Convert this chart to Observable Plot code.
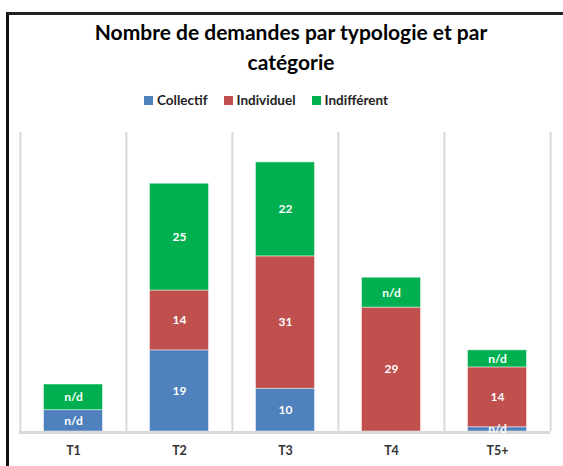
<!DOCTYPE html>
<html>
<head>
<meta charset="utf-8">
<script src="https://cdn.jsdelivr.net/npm/d3@7"></script>
<script src="https://cdn.jsdelivr.net/npm/@observablehq/plot@0.6"></script>
<style>
  html, body { margin: 0; padding: 0; background: #fff; }
  #wrap { position: relative; width: 563px; height: 466px; overflow: hidden; font-family: Lato, "Open Sans", sans-serif; }
  #frame { position: absolute; left: 6px; top: 12px; width: 600px; height: 500px; border-left: 3px solid #111; border-top: 3px solid #222; box-sizing: border-box; z-index: 5; pointer-events: none; }
  #title { position: absolute; left: 0; width: 582px; top: 17px; text-align: center; font-weight: bold; font-size: 21px; line-height: 30px; color: #000; }
  #legend { position: absolute; left: 0; width: 532px; top: 92px; text-align: center; font-weight: bold; font-size: 13.5px; color: #222; }
  #legend span.item { margin: 0 8px; white-space: nowrap; }
  #legend span.sw { display: inline-block; width: 9px; height: 9px; margin-right: 4px; vertical-align: 0px; }
  #chart { position: absolute; left: 0; top: 120px; }
</style>
</head>
<body>
<div id="wrap">
  <div id="title">Nombre de demandes par typologie et par<br>catégorie</div>
  <div id="legend"></div>
  <div id="chart"></div>
  <div id="frame"></div>
</div>
<script>
const categories = ["T1", "T2", "T3", "T4", "T5+"];
const series = ["Collectif", "Individuel", "Indifférent"];
const colors = ["#4F81BD", "#C0504D", "#00B050"];
const collectif = [5, 19, 10, 0, 1];
const individuel = [0, 14, 31, 29, 14];
const indifferent = [6, 25, 22, 7, 4];
const collectifLabels = ["n/d", "19", "10", "", "n/d"];
const individuelLabels = ["", "14", "31", "29", "14"];
const indifferentLabels = ["n/d", "25", "22", "n/d", "n/d"];

const values = [collectif, individuel, indifferent];
const labels = [collectifLabels, individuelLabels, indifferentLabels];
const data = [];
series.forEach((s, i) => {
  categories.forEach((c, j) => {
    data.push({cat: c, serie: s, value: values[i][j], label: labels[i][j]});
  });
});

// legend
const legend = document.getElementById("legend");
series.forEach((s, i) => {
  const item = document.createElement("span");
  item.className = "item";
  item.innerHTML = `<span class="sw" style="background:${colors[i]}"></span>${s}`;
  legend.appendChild(item);
});

const width = 563, height = 346;
const marginLeft = 19, marginRight = 13, marginTop = 12, marginBottom = 35;
const step = (width - marginLeft - marginRight) / categories.length;
const inset = 23.5;

const chart = Plot.plot({
  width, height, marginLeft, marginRight, marginTop, marginBottom,
  style: {fontFamily: "Lato, 'Open Sans', sans-serif", background: "transparent"},
  x: {domain: categories, padding: 0, label: null, tickSize: 0, tickPadding: 15},
  y: {domain: [0, 70], axis: null},
  color: {domain: series, range: colors},
  marks: [
    Plot.ruleX(categories, {x: d => d, y1: 0, y2: 70, dx: -step / 2, stroke: "#d9d9d9", strokeWidth: 2}),
    Plot.ruleX([categories[categories.length - 1]], {x: d => d, y1: 0, y2: 70, dx: step / 2, stroke: "#d9d9d9", strokeWidth: 2}),
    Plot.barY(data, {x: "cat", y: "value", fill: "serie", filter: d => d.value > 0, insetLeft: inset, insetRight: inset, stroke: "white", strokeOpacity: 0.45, strokeWidth: 1}),
    Plot.ruleY([0], {stroke: "#d9d9d9", strokeWidth: 3, dy: 1}),
    Plot.text(data, Plot.stackY({x: "cat", y: "value", text: "label", fill: "white", fontWeight: "bold", fontSize: 12})),
    Plot.axisX({tickSize: 0, tickPadding: 15, fontWeight: "bold", fontSize: 12.5, fill: "#333", label: null})
  ]
});
document.getElementById("chart").appendChild(chart);
</script>
</body>
</html>
